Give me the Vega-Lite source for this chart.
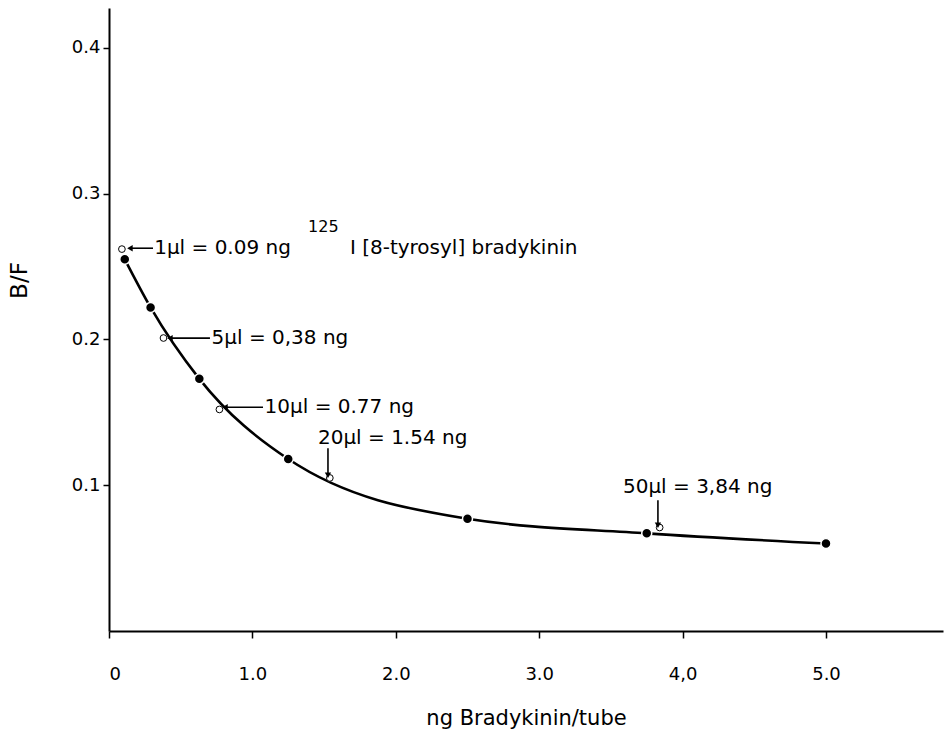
{
  "$schema": "https://vega.github.io/schema/vega-lite/v6.json",
  "width": 834,
  "height": 623,
  "autosize": {"type": "none"},
  "padding": {"left": 109, "top": 8, "right": 2, "bottom": 102},
  "background": "white",
  "config": {
    "view": {"stroke": null},
    "font": "DejaVu Sans",
    "axis": {
      "grid": false,
      "domainColor": "black",
      "tickColor": "black",
      "labelColor": "black",
      "titleColor": "black",
      "domainWidth": 2,
      "tickWidth": 1.5,
      "labelFont": "DejaVu Sans",
      "titleFont": "DejaVu Sans",
      "titleFontWeight": "normal"
    }
  },
  "datasets": {
    "curve": [
      {"x": 0.11, "y": 0.255},
      {"x": 0.29, "y": 0.222},
      {"x": 0.63, "y": 0.173},
      {"x": 1.25, "y": 0.118},
      {"x": 2.5, "y": 0.077},
      {"x": 3.75, "y": 0.067},
      {"x": 5.0, "y": 0.06}
    ],
    "tracer": [
      {"x": 0.09, "y": 0.262},
      {"x": 0.38, "y": 0.201},
      {"x": 0.77, "y": 0.152},
      {"x": 1.54, "y": 0.105},
      {"x": 3.84, "y": 0.071}
    ],
    "arrows": [
      {"x": 0.307, "x2": 0.146, "y": 0.2626, "y2": 0.2626, "dir": "left"},
      {"x": 0.704, "x2": 0.425, "y": 0.2009, "y2": 0.2009, "dir": "left"},
      {"x": 1.074, "x2": 0.809, "y": 0.1535, "y2": 0.1535, "dir": "left"},
      {"x": 1.527, "x2": 1.527, "y": 0.1254, "y2": 0.1069, "dir": "down"},
      {"x": 3.828, "x2": 3.828, "y": 0.0897, "y2": 0.0726, "dir": "down"}
    ],
    "labels": [
      {"x": 0.315, "y": 0.2626, "t": "1µl = 0.09 ng"},
      {"x": 0.715, "y": 0.2009, "t": "5µl = 0,38 ng"},
      {"x": 1.085, "y": 0.1535, "t": "10µl = 0.77 ng"},
      {"x": 1.457, "y": 0.1323, "t": "20µl = 1.54 ng"},
      {"x": 3.584, "y": 0.0987, "t": "50µl = 3,84 ng"},
      {"x": 1.68, "y": 0.2626, "t": "I [8-tyrosyl] bradykinin"}
    ],
    "sup": [
      {"x": 1.388, "y": 0.277, "t": "125"}
    ]
  },
  "encoding": {
    "x": {
      "field": "x",
      "type": "quantitative",
      "scale": {"domain": [0, 5.816], "nice": false, "zero": false},
      "axis": {
        "values": [0, 1, 2, 3, 4, 5],
        "labelExpr": "datum.value == 0 ? '0' : (datum.value == 4 ? '4,0' : format(datum.value, '.1f'))",
        "tickSize": 7,
        "labelPadding": 27,
        "labelFontSize": 18,
        "title": "ng Bradykinin/tube",
        "titleFontSize": 21,
        "titlePadding": 24
      }
    },
    "y": {
      "field": "y",
      "type": "quantitative",
      "scale": {"domain": [0, 0.4274], "nice": false, "zero": false},
      "axis": {
        "values": [0.1, 0.2, 0.3, 0.4],
        "format": ".1f",
        "tickSize": 6,
        "labelPadding": 3,
        "labelFontSize": 18,
        "title": "B/F",
        "titleFontSize": 23,
        "titlePadding": 40,
        "titleY": 272
      }
    }
  },
  "layer": [
    {
      "data": {"name": "curve"},
      "mark": {"type": "line", "interpolate": "monotone", "color": "black", "strokeWidth": 2.6}
    },
    {
      "data": {"name": "curve"},
      "mark": {"type": "point", "filled": true, "fill": "black", "stroke": "white", "strokeWidth": 1.5, "size": 100, "opacity": 1}
    },
    {
      "data": {"name": "tracer"},
      "mark": {"type": "point", "filled": false, "fill": "white", "stroke": "black", "strokeWidth": 1, "size": 45, "opacity": 1}
    },
    {
      "data": {"name": "arrows"},
      "mark": {"type": "rule", "color": "black", "strokeWidth": 1.6},
      "encoding": {"x2": {"field": "x2"}, "y2": {"field": "y2"}}
    },
    {
      "data": {"name": "arrows"},
      "transform": [{"filter": "datum.dir == 'left'"}],
      "mark": {"type": "point", "shape": "triangle-left", "filled": true, "color": "black", "size": 40, "opacity": 1},
      "encoding": {"x": {"field": "x2", "type": "quantitative"}, "y": {"field": "y2", "type": "quantitative"}}
    },
    {
      "data": {"name": "arrows"},
      "transform": [{"filter": "datum.dir == 'down'"}],
      "mark": {"type": "point", "shape": "triangle-down", "filled": true, "color": "black", "size": 40, "opacity": 1},
      "encoding": {"x": {"field": "x2", "type": "quantitative"}, "y": {"field": "y2", "type": "quantitative"}}
    },
    {
      "data": {"name": "labels"},
      "mark": {"type": "text", "align": "left", "baseline": "middle", "font": "DejaVu Sans", "fontSize": 20, "color": "black"},
      "encoding": {"text": {"field": "t"}}
    },
    {
      "data": {"name": "sup"},
      "mark": {"type": "text", "align": "left", "baseline": "middle", "font": "DejaVu Sans", "fontSize": 16, "color": "black"},
      "encoding": {"text": {"field": "t"}}
    }
  ]
}
